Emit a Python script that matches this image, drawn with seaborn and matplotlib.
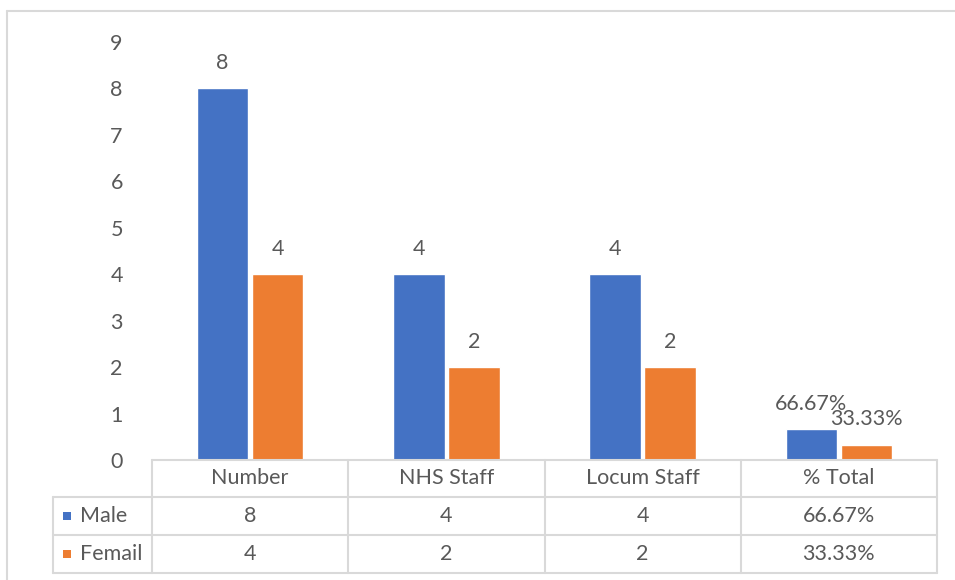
import pandas as pd
import seaborn as sns
import matplotlib.pyplot as plt
from matplotlib.lines import Line2D
from matplotlib.patches import Rectangle

# chart data
categories = ['Number', 'NHS Staff', 'Locum Staff', '% Total']
male = [8, 4, 4, 0.6667]
female = [4, 2, 2, 0.3333]
male_labels = ['8', '4', '4', '66.67%']
female_labels = ['4', '2', '2', '33.33%']
series = ['Male', 'Femail']
colors = ['#4472C4', '#ED7D31']
y_ticks = list(range(0, 10))

W, H = 955, 580
TXT = '#595959'
GRID = '#D9D9D9'
FS = 15.5

sns.set_style('white')
plt.rcParams['font.family'] = ['Lato', 'DejaVu Sans']

df = pd.DataFrame({
    'category': categories * 2,
    'value': male + female,
    'series': [series[0]] * 4 + [series[1]] * 4,
})

fig = plt.figure(figsize=(W / 100, H / 100), dpi=100)


def fx(px):
    return px / W


def fy(py):
    return 1 - py / H


# axes in pixel layout: plot area x 152..937, y 460 (0) .. 42 (9)
x0, x1, ybot, ytop = 152, 937, 460, 42
ax = fig.add_axes([fx(x0), fy(ybot), fx(x1 - x0), fy(ytop) - fy(ybot)])
sns.barplot(data=df, x='category', y='value', hue='series', order=categories,
            hue_order=series, palette=colors, width=0.56, gap=0.06,
            saturation=1, legend=False, ax=ax)
ax.set_ylim(0, 9)
ax.set_xlim(-0.5, len(categories) - 0.5)
ax.set_yticks(y_ticks)
ax.set_yticklabels([str(t) for t in y_ticks], color=TXT, fontsize=FS)
ax.tick_params(axis='y', length=0, pad=21)
ax.set_xticks([])
ax.set_xlabel('')
ax.set_ylabel('')
sns.despine(ax=ax, left=True, bottom=True)

for cont, labels in zip(ax.containers, [male_labels, female_labels]):
    ax.bar_label(cont, labels=labels, padding=11, color=TXT, fontsize=FS)

# data table below the plot
col_edges = [x0 + i * (x1 - x0) / len(categories) for i in range(len(categories) + 1)]
row_edges = [460, 497, 535, 573]
left_edge = 53


def hline(xa, xb, y):
    fig.add_artist(Line2D([fx(xa), fx(xb)], [fy(y), fy(y)], color=GRID, lw=1.5))


def vline(x, ya, yb):
    fig.add_artist(Line2D([fx(x), fx(x)], [fy(ya), fy(yb)], color=GRID, lw=1.5))


hline(x0, x1, row_edges[0])
for y in row_edges[1:]:
    hline(left_edge, x1, y)
vline(left_edge, row_edges[1], row_edges[3])
for x in col_edges:
    vline(x, row_edges[0], row_edges[3])

for i, cat in enumerate(categories):
    cx = (col_edges[i] + col_edges[i + 1]) / 2
    fig.text(fx(cx), fy((row_edges[0] + row_edges[1]) / 2), cat, ha='center',
             va='center', color=TXT, fontsize=FS)
    for r, labels in enumerate([male_labels, female_labels]):
        cy = (row_edges[r + 1] + row_edges[r + 2]) / 2
        fig.text(fx(cx), fy(cy), labels[i], ha='center', va='center',
                 color=TXT, fontsize=FS)

for r, (name, c) in enumerate(zip(series, colors)):
    cy = (row_edges[r + 1] + row_edges[r + 2]) / 2
    fig.add_artist(Rectangle((fx(63), fy(cy + 4)), fx(8), fy(cy - 4) - fy(cy + 4),
                             color=c, lw=0))
    fig.text(fx(80), fy(cy), name, ha='left', va='center', color=TXT, fontsize=FS)

# outer chart frame
fig.add_artist(Line2D([fx(7), fx(W)], [fy(11), fy(11)], color=GRID, lw=1.5))
fig.add_artist(Line2D([fx(7), fx(7)], [fy(11), fy(H)], color=GRID, lw=1.5))

fig.savefig('out.png', dpi=100)
